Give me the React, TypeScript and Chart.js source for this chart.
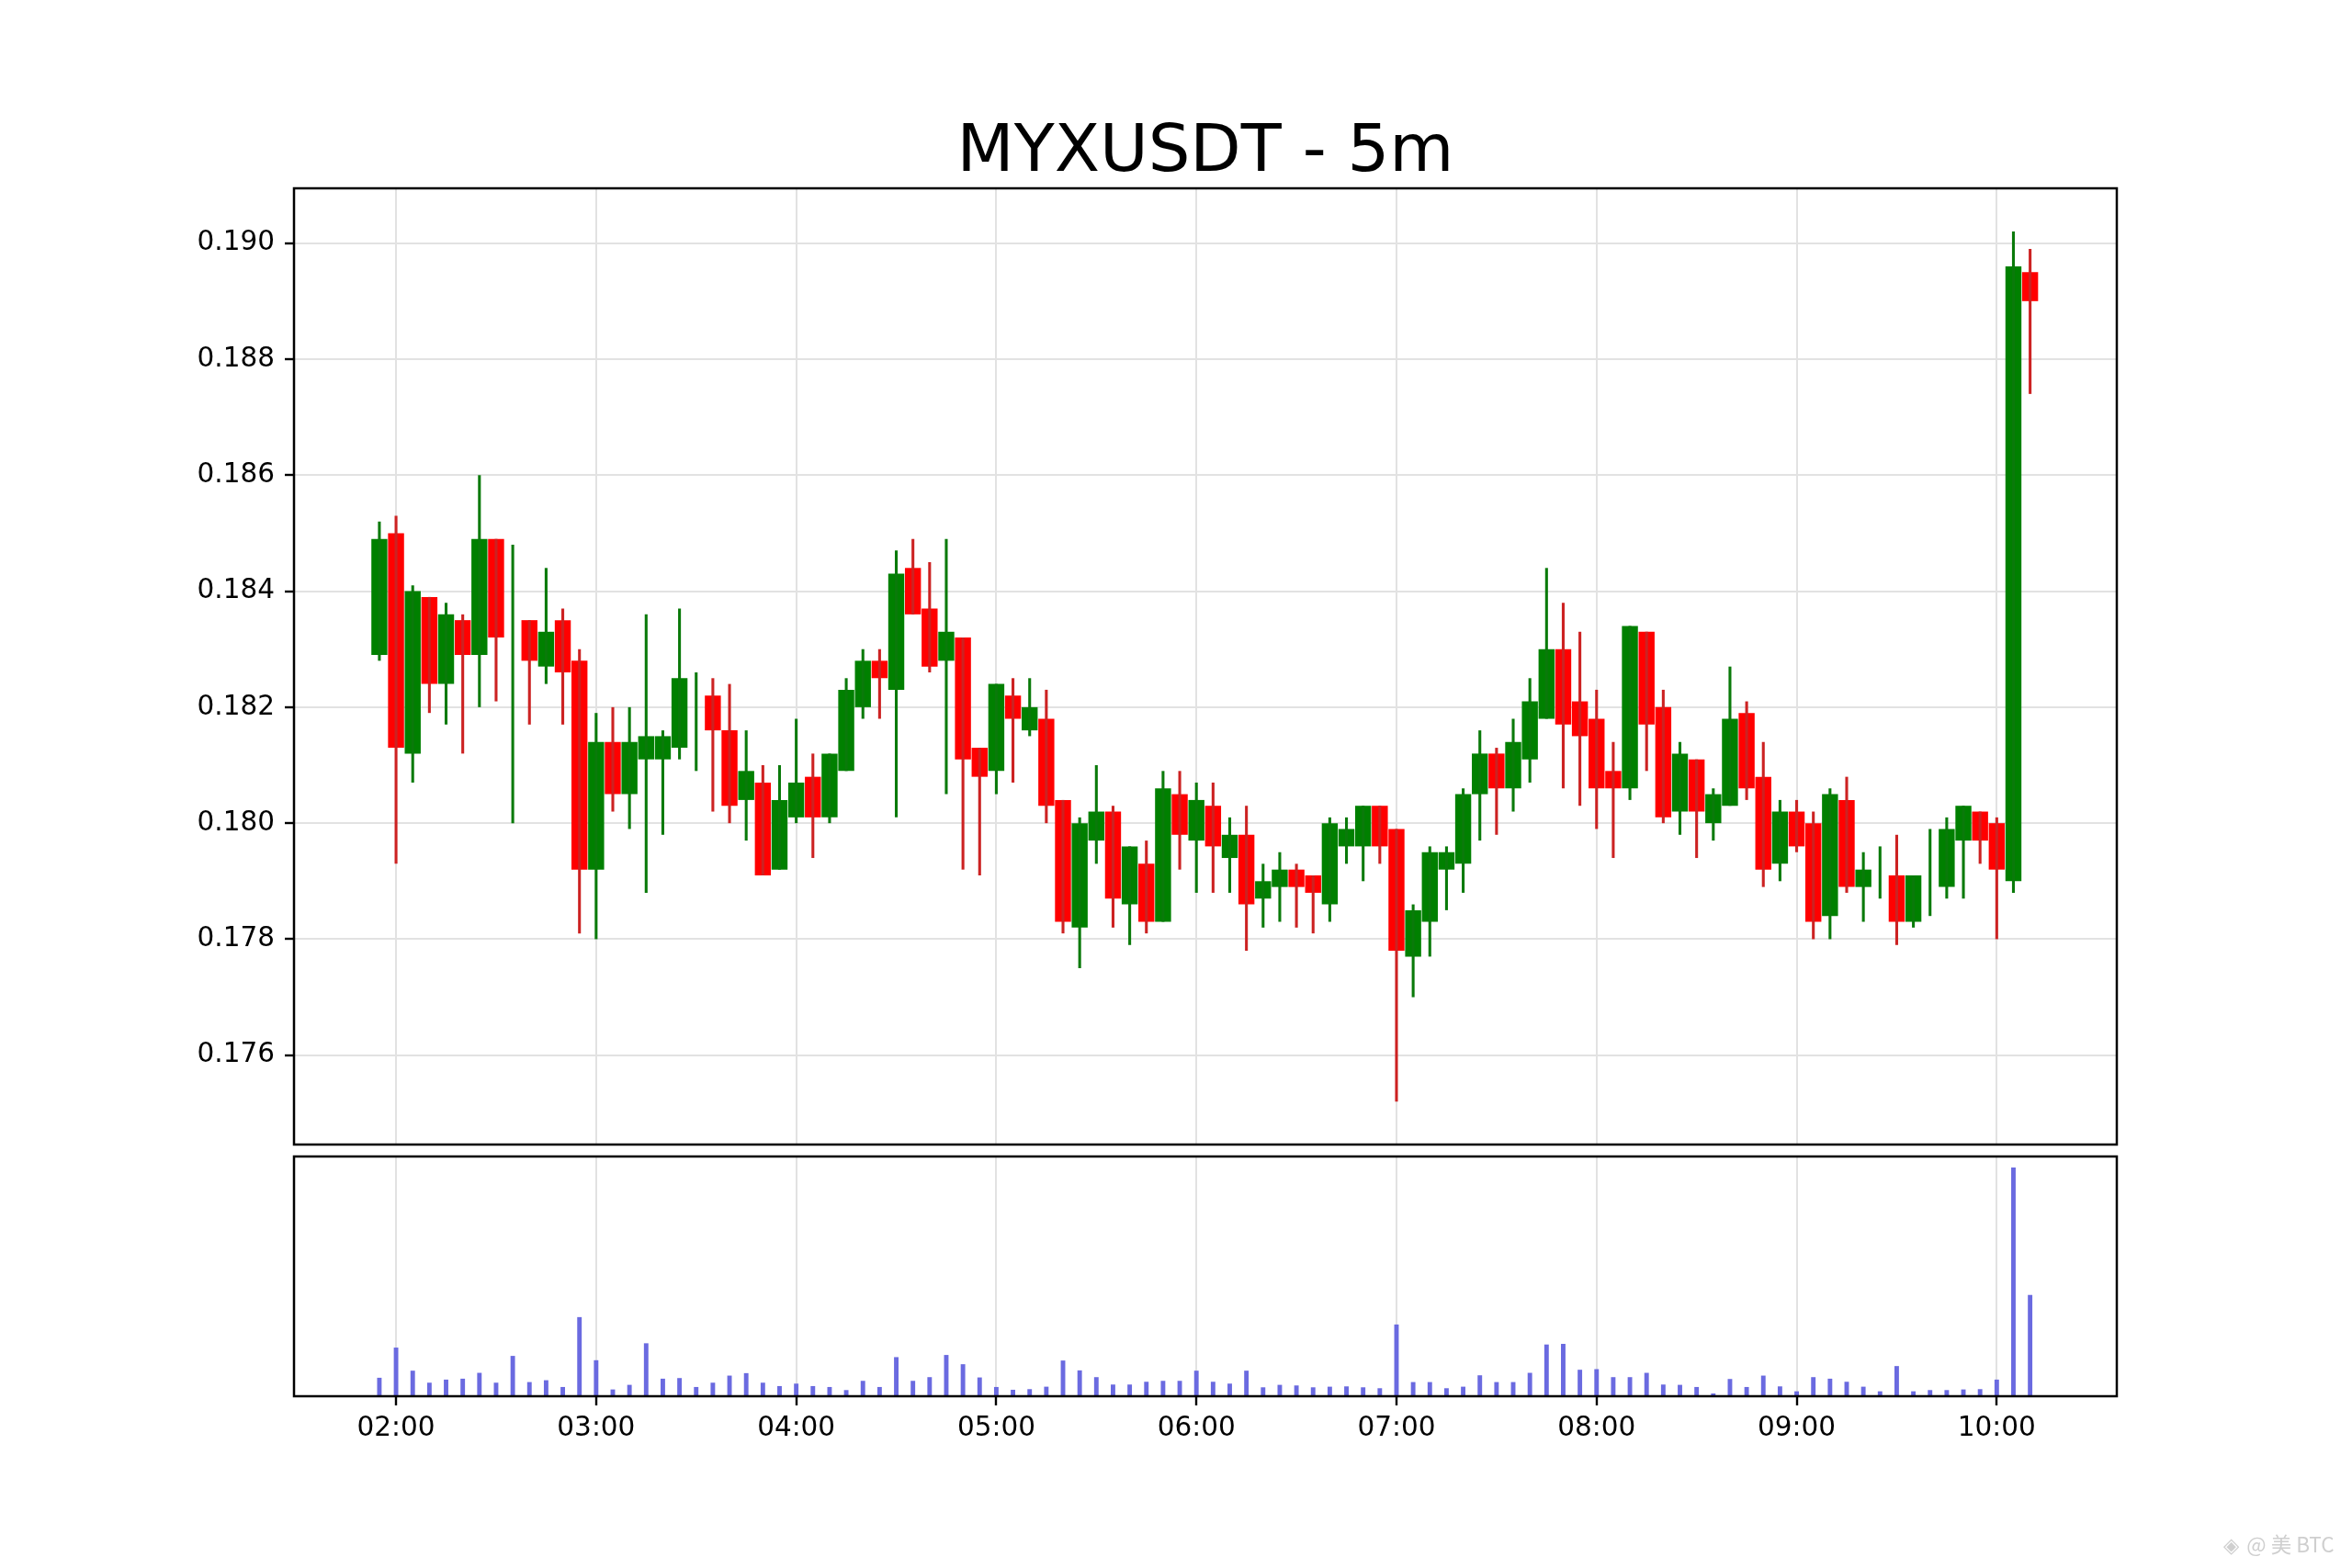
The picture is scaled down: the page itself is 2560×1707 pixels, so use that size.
import React, { useEffect, useRef } from "react";
import { Chart, registerables } from "chart.js";

Chart.register(...registerables);

const TITLE = "MYXUSDT - 5m";
const WATERMARK_ICON = "◈";
const WATERMARK = "@ 美 BTC";

const TIMES = [
  "01:55", "02:00", "02:05", "02:10", "02:15", "02:20", "02:25", "02:30", "02:35", "02:40", "02:45", "02:50", "02:55",
  "03:00", "03:05", "03:10", "03:15", "03:20", "03:25", "03:30", "03:35", "03:40", "03:45", "03:50", "03:55",
  "04:00", "04:05", "04:10", "04:15", "04:20", "04:25", "04:30", "04:35", "04:40", "04:45", "04:50", "04:55",
  "05:00", "05:05", "05:10", "05:15", "05:20", "05:25", "05:30", "05:35", "05:40", "05:45", "05:50", "05:55",
  "06:00", "06:05", "06:10", "06:15", "06:20", "06:25", "06:30", "06:35", "06:40", "06:45", "06:50", "06:55",
  "07:00", "07:05", "07:10", "07:15", "07:20", "07:25", "07:30", "07:35", "07:40", "07:45", "07:50", "07:55",
  "08:00", "08:05", "08:10", "08:15", "08:20", "08:25", "08:30", "08:35", "08:40", "08:45", "08:50", "08:55",
  "09:00", "09:05", "09:10", "09:15", "09:20", "09:25", "09:30", "09:35", "09:40", "09:45", "09:50", "09:55",
  "10:00", "10:05", "10:10",
];

const OPEN = [
  0.1829, 0.1850, 0.1812, 0.1839, 0.1824, 0.1835, 0.1829, 0.1849, 0.1832, 0.1835, 0.1827, 0.1835, 0.1828,
  0.1792, 0.1814, 0.1805, 0.1811, 0.1811, 0.1813, 0.1825, 0.1822, 0.1816, 0.1804, 0.1807, 0.1792,
  0.1801, 0.1808, 0.1801, 0.1809, 0.1820, 0.1828, 0.1823, 0.1844, 0.1837, 0.1828, 0.1832, 0.1813,
  0.1809, 0.1822, 0.1816, 0.1818, 0.1804, 0.1782, 0.1797, 0.1802, 0.1786, 0.1793, 0.1783, 0.1805,
  0.1797, 0.1803, 0.1794, 0.1798, 0.1787, 0.1789, 0.1792, 0.1791, 0.1786, 0.1796, 0.1796, 0.1803,
  0.1799, 0.1777, 0.1783, 0.1792, 0.1793, 0.1805, 0.1812, 0.1806, 0.1811, 0.1818, 0.1830, 0.1821,
  0.1818, 0.1809, 0.1806, 0.1833, 0.1820, 0.1802, 0.1811, 0.1800, 0.1803, 0.1819, 0.1808, 0.1793,
  0.1802, 0.1800, 0.1784, 0.1804, 0.1789, 0.1792, 0.1791, 0.1783, 0.1791, 0.1789, 0.1797, 0.1802,
  0.1800, 0.1790, 0.1895,
];

const HIGH = [
  0.1852, 0.1853, 0.1841, 0.1839, 0.1838, 0.1836, 0.1860, 0.1849, 0.1848, 0.1835, 0.1844, 0.1837, 0.1830,
  0.1819, 0.1820, 0.1820, 0.1836, 0.1816, 0.1837, 0.1826, 0.1825, 0.1824, 0.1816, 0.1810, 0.1810,
  0.1818, 0.1812, 0.1812, 0.1825, 0.1830, 0.1830, 0.1847, 0.1849, 0.1845, 0.1849, 0.1832, 0.1813,
  0.1824, 0.1825, 0.1825, 0.1823, 0.1804, 0.1801, 0.1810, 0.1803, 0.1796, 0.1797, 0.1809, 0.1809,
  0.1807, 0.1807, 0.1801, 0.1803, 0.1793, 0.1795, 0.1793, 0.1791, 0.1801, 0.1801, 0.1803, 0.1803,
  0.1799, 0.1786, 0.1796, 0.1796, 0.1806, 0.1816, 0.1813, 0.1818, 0.1825, 0.1844, 0.1838, 0.1833,
  0.1823, 0.1814, 0.1834, 0.1833, 0.1823, 0.1814, 0.1811, 0.1806, 0.1827, 0.1821, 0.1814, 0.1804,
  0.1804, 0.1802, 0.1806, 0.1808, 0.1795, 0.1796, 0.1798, 0.1791, 0.1799, 0.1801, 0.1803, 0.1802,
  0.1801, 0.1902, 0.1899,
];

const LOW = [
  0.1828, 0.1793, 0.1807, 0.1819, 0.1817, 0.1812, 0.1820, 0.1821, 0.1800, 0.1817, 0.1824, 0.1817, 0.1781,
  0.1780, 0.1802, 0.1799, 0.1788, 0.1798, 0.1811, 0.1809, 0.1802, 0.1800, 0.1797, 0.1791, 0.1792,
  0.1800, 0.1794, 0.1800, 0.1809, 0.1818, 0.1818, 0.1801, 0.1836, 0.1826, 0.1805, 0.1792, 0.1791,
  0.1805, 0.1807, 0.1815, 0.1800, 0.1781, 0.1775, 0.1793, 0.1782, 0.1779, 0.1781, 0.1783, 0.1792,
  0.1788, 0.1788, 0.1788, 0.1778, 0.1782, 0.1783, 0.1782, 0.1781, 0.1783, 0.1793, 0.1790, 0.1793,
  0.1752, 0.1770, 0.1777, 0.1785, 0.1788, 0.1797, 0.1798, 0.1802, 0.1807, 0.1818, 0.1806, 0.1803,
  0.1799, 0.1794, 0.1804, 0.1809, 0.1800, 0.1798, 0.1794, 0.1797, 0.1803, 0.1804, 0.1789, 0.1790,
  0.1795, 0.1780, 0.1780, 0.1788, 0.1783, 0.1787, 0.1779, 0.1782, 0.1784, 0.1787, 0.1787, 0.1793,
  0.1780, 0.1788, 0.1874,
];

const CLOSE = [
  0.1849, 0.1813, 0.1840, 0.1824, 0.1836, 0.1829, 0.1849, 0.1832, 0.1832, 0.1828, 0.1833, 0.1826, 0.1792,
  0.1814, 0.1805, 0.1814, 0.1815, 0.1815, 0.1825, 0.1825, 0.1816, 0.1803, 0.1809, 0.1791, 0.1804,
  0.1807, 0.1801, 0.1812, 0.1823, 0.1828, 0.1825, 0.1843, 0.1836, 0.1827, 0.1833, 0.1811, 0.1808,
  0.1824, 0.1818, 0.1820, 0.1803, 0.1783, 0.1800, 0.1802, 0.1787, 0.1796, 0.1783, 0.1806, 0.1798,
  0.1804, 0.1796, 0.1798, 0.1786, 0.1790, 0.1792, 0.1789, 0.1788, 0.1800, 0.1799, 0.1803, 0.1796,
  0.1778, 0.1785, 0.1795, 0.1795, 0.1805, 0.1812, 0.1806, 0.1814, 0.1821, 0.1830, 0.1817, 0.1815,
  0.1806, 0.1806, 0.1834, 0.1817, 0.1801, 0.1812, 0.1802, 0.1805, 0.1818, 0.1806, 0.1792, 0.1802,
  0.1796, 0.1783, 0.1805, 0.1789, 0.1792, 0.1792, 0.1783, 0.1791, 0.1791, 0.1799, 0.1803, 0.1797,
  0.1792, 0.1896, 0.1890,
];

const VOLUME = [
  60, 158, 83, 44, 54, 57, 76, 44, 131, 46, 52, 30, 257,
  117, 22, 37, 172, 57, 59, 30, 44, 67, 75, 44, 33,
  41, 33, 30, 20, 50, 30, 127, 50, 62, 134, 104, 61,
  30, 21, 23, 31, 116, 84, 62, 38, 38, 47, 50, 50,
  83, 47, 41, 83, 29, 37, 35, 29, 31, 32, 29, 26,
  233, 46, 46, 26, 31, 68, 46, 46, 76, 168, 170, 86,
  88, 62, 62, 76, 38, 37, 30, 9, 56, 30, 67, 32,
  16, 62, 57, 47, 31, 16, 98, 16, 20, 20, 22, 23,
  54, 743, 329,
];

const HOUR_LABELS = ["02:00", "03:00", "04:00", "05:00", "06:00", "07:00", "08:00", "09:00", "10:00"];
const PRICE_TICKS = [0.176, 0.178, 0.18, 0.182, 0.184, 0.186, 0.188, 0.19];

// axis limits
const PRICE_MIN = 0.17446;
const PRICE_MAX = 0.190945;
const X_MIN = -30.6; // minutes relative to 02:00
const X_MAX = 516;

const UP = "#008000";
const DOWN = "#ff0000";
const UP_WICK = "#0a7a0a";
const DOWN_WICK = "#cc2222";
const VOL_COLOR = "#6a6ae0";
const GRID = "#e2e2e2";
const FONT = "DejaVu Sans";

const toMin = (t: string) => {
  const [h, m] = t.split(":").map(Number);
  return h * 60 + m - 120;
};

const framePlugin = {
  id: "frame",
  afterDraw(chart: any) {
    const { ctx, chartArea: a } = chart;
    ctx.save();
    ctx.strokeStyle = "#000";
    ctx.lineWidth = 2.5;
    ctx.strokeRect(a.left, a.top, a.right - a.left, a.bottom - a.top);
    ctx.restore();
  },
};

const W = 2560;
const H = 1707;

export default function App() {
  const priceRef = useRef<HTMLCanvasElement>(null);
  const volRef = useRef<HTMLCanvasElement>(null);

  useEffect(() => {
    const xs = TIMES.map(toMin);
    const up = TIMES.map((_, i) => CLOSE[i] >= OPEN[i]);
    const hourTicks = HOUR_LABELS.map((l) => ({ value: toMin(l) }));

    const xCommon: any = {
      type: "linear",
      min: X_MIN,
      max: X_MAX,
      offset: false,
      afterBuildTicks: (ax: any) => {
        ax.ticks = hourTicks.map((t) => ({ ...t }));
      },
    };

    const price = new Chart(priceRef.current!, {
      type: "bar",
      data: {
        datasets: [
          {
            data: xs.map((x, i) => ({ x, y: [LOW[i], HIGH[i]] })) as any,
            backgroundColor: up.map((u) => (u ? UP_WICK : DOWN_WICK)),
            borderWidth: 0,
            barPercentage: 0.17,
            categoryPercentage: 1,
            grouped: false,
          } as any,
          {
            data: xs.map((x, i) => ({ x, y: [OPEN[i], CLOSE[i]] })) as any,
            backgroundColor: up.map((u) => (u ? UP : DOWN)),
            borderWidth: 0,
            barPercentage: 0.96,
            categoryPercentage: 1,
            grouped: false,
          } as any,
        ],
      },
      options: {
        animation: false,
        responsive: false,
        devicePixelRatio: 1,
        layout: { padding: { left: 0, right: W - 2304, top: 0, bottom: H - 1246 } },
        plugins: {
          legend: { display: false },
          tooltip: { enabled: false },
          title: {
            display: true,
            fullSize: false,
            text: TITLE,
            color: "#000",
            font: { family: FONT, size: 72, weight: "normal", lineHeight: 1.0 },
            padding: { top: 131, bottom: 2 },
          },
        },
        scales: {
          x: {
            ...xCommon,
            afterFit: (ax: any) => {
              ax.height = 0;
            },
            ticks: { display: false },
            grid: { color: GRID, lineWidth: 2, drawTicks: false, offset: false },
            border: { display: false },
          },
          y: {
            type: "linear",
            min: PRICE_MIN,
            max: PRICE_MAX,
            beginAtZero: false,
            afterBuildTicks: (ax: any) => {
              ax.ticks = PRICE_TICKS.map((v) => ({ value: v }));
            },
            afterFit: (ax: any) => {
              ax.width = 320;
            },
            ticks: {
              color: "#000",
              font: { family: FONT, size: 29.5 },
              padding: 11,
              callback: (v: any) => Number(v).toFixed(3),
            },
            grid: { color: GRID, lineWidth: 2, tickColor: "#000", tickLength: 10, tickWidth: 2.4 },
            border: { display: false },
          },
        },
      } as any,
      plugins: [framePlugin],
    });

    const vmax = Math.max(...VOLUME) * 1.048;
    const vol = new Chart(volRef.current!, {
      type: "bar",
      data: {
        datasets: [
          {
            data: xs.map((x, i) => ({ x, y: VOLUME[i] })) as any,
            backgroundColor: VOL_COLOR,
            borderWidth: 0,
            barPercentage: 0.27,
            categoryPercentage: 1,
            grouped: false,
          } as any,
        ],
      },
      options: {
        animation: false,
        responsive: false,
        devicePixelRatio: 1,
        layout: { padding: { left: 0, right: W - 2304, top: 1259, bottom: 0 } },
        plugins: { legend: { display: false }, tooltip: { enabled: false } },
        scales: {
          x: {
            ...xCommon,
            afterFit: (ax: any) => {
              ax.height = H - 1520;
            },
            ticks: {
              color: "#000",
              font: { family: FONT, size: 29.5 },
              padding: 8,
              maxRotation: 0,
              autoSkip: false,
              callback: (_v: any, i: number) => HOUR_LABELS[i],
            },
            grid: { color: GRID, lineWidth: 2, tickColor: "#000", tickLength: 10, tickWidth: 2.4, offset: false },
            border: { display: false },
          },
          y: {
            type: "linear",
            min: 0,
            max: vmax,
            afterFit: (ax: any) => {
              ax.width = 320;
            },
            ticks: { display: false },
            grid: { display: false },
            border: { display: false },
          },
        },
      } as any,
      plugins: [framePlugin],
    });

    return () => {
      price.destroy();
      vol.destroy();
    };
  }, []);

  return (
    <div style={{ position: "fixed", left: 0, top: 0, width: W, height: H, background: "#fff", overflow: "hidden" }}>
      <canvas ref={priceRef} width={W} height={H} style={{ position: "absolute", left: 0, top: 0, width: W, height: H }} />
      <canvas ref={volRef} width={W} height={H} style={{ position: "absolute", left: 0, top: 0, width: W, height: H }} />
      <div
        style={{
          position: "absolute",
          left: 2420,
          top: 1664,
          fontFamily: "'Noto Sans CJK SC', 'DejaVu Sans', sans-serif",
          fontSize: 22.5,
          color: "#cfcfcf",
          whiteSpace: "nowrap",
          lineHeight: "32px",
        }}
      >
        <span style={{ fontFamily: "'DejaVu Sans'", marginRight: 8 }}>{WATERMARK_ICON}</span>
        {WATERMARK}
      </div>
    </div>
  );
}
